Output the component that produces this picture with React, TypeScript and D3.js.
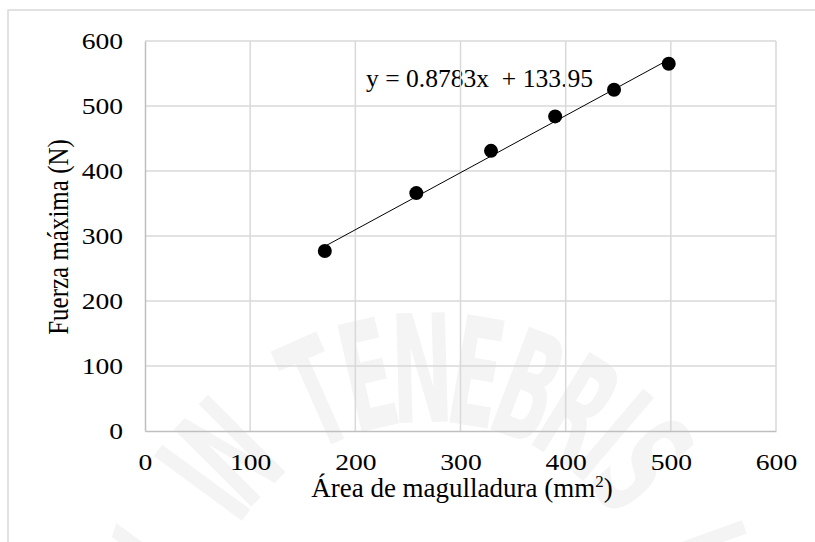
import { useEffect, useRef } from 'react';
import * as d3 from 'd3';

// values
const areaValues = [171, 258, 329, 390, 446, 498];
const forceValues = [277, 366, 431, 484, 525, 565];
const xTickValues = [0, 100, 200, 300, 400, 500, 600];
const yTickValues = [0, 100, 200, 300, 400, 500, 600];
const trendSlope = 0.8783;
const trendIntercept = 133.95;
const equationText = 'y = 0.8783x  + 133.95';
const xTitle = 'Área de magulladura (mm';
const yTitle = 'Fuerza máxima (N)';
const watermarkText = 'LUX IN TENEBRIS LUCET';

const W = 815;
const H = 542;
const FONT = '"Liberation Serif", "Times New Roman", serif';

export default function App() {
    const ref = useRef<SVGSVGElement | null>(null);

    useEffect(() => {
        if (!ref.current) return;
        document.body.style.margin = '0';

        const margin = { top: 41, right: 39, bottom: 111, left: 145 };
        const innerW = W - margin.left - margin.right;
        const innerH = H - margin.top - margin.bottom;

        const x = d3.scaleLinear().domain([0, 600]).range([0, innerW]);
        const y = d3.scaleLinear().domain([0, 600]).range([innerH, 0]);

        const svg = d3.select(ref.current);
        svg.selectAll('*').remove();
        svg.attr('viewBox', `0 0 ${W} ${H}`);

        svg.append('rect').attr('width', W).attr('height', H).attr('fill', '#fff');

        // faint watermark, letters laid out one by one round an arc
        const cx = 430, cy = 650, rText = 228;
        const advance = (c: string) => (c === ' ' ? 50 : c === 'I' ? 30 : 55);
        const chars = watermarkText.split('');
        const starts: number[] = [];
        let run = 0;
        chars.forEach(c => {
            starts.push(run + advance(c) / 2);
            run += advance(c);
        });
        const anchorIdx = watermarkText.indexOf('TENEBRIS') + 2; // the N sits almost straight up
        const anchorAngle = -1.6;
        const wm = svg.append('g')
            .attr('transform', `translate(${cx},${cy})`)
            .style('font-family', '"DejaVu Sans Condensed", "DejaVu Sans", sans-serif')
            .style('font-weight', 'bold')
            .attr('font-size', 150)
            .attr('fill', '#f4f4f4');
        chars.forEach((c, i) => {
            if (c === ' ') return;
            const ang = anchorAngle + ((starts[i] - starts[anchorIdx]) / 283) * (180 / Math.PI);
            wm.append('text')
                .attr('transform', `rotate(${ang}) translate(0,${-rText}) scale(0.55,1)`)
                .attr('text-anchor', 'middle')
                .text(c);
        });

        // outer frame
        svg.append('path')
            .attr('d', `M8,${H + 2} V10 H${W + 2}`)
            .attr('fill', 'none')
            .attr('stroke', '#d9d9d9')
            .attr('stroke-width', 1.5);

        const g = svg.append('g').attr('transform', `translate(${margin.left},${margin.top})`);

        g.append('text')
            .attr('x', 366 - margin.left)
            .attr('y', 87 - margin.top)
            .style('font-family', FONT)
            .attr('font-size', 25.5)
            .attr('textLength', 227)
            .attr('lengthAdjust', 'spacingAndGlyphs')
            .style('white-space', 'pre')
            .text(equationText);

        // gridlines
        g.append('g')
            .selectAll('line')
            .data(xTickValues.slice(1))
            .join('line')
            .attr('x1', d => x(d))
            .attr('x2', d => x(d))
            .attr('y1', 0)
            .attr('y2', innerH)
            .attr('stroke', '#d9d9d9')
            .attr('stroke-width', 1.5);
        g.append('g')
            .selectAll('line')
            .data(yTickValues.slice(1))
            .join('line')
            .attr('x1', 0)
            .attr('x2', innerW)
            .attr('y1', d => y(d))
            .attr('y2', d => y(d))
            .attr('stroke', '#d9d9d9')
            .attr('stroke-width', 1.5);

        // axes
        const xAxis = g.append('g')
            .attr('transform', `translate(0,${innerH})`)
            .call(d3.axisBottom(x).tickValues(xTickValues).tickSize(0).tickPadding(22));
        const yAxis = g.append('g')
            .call(d3.axisLeft(y).tickValues(yTickValues).tickSize(0).tickPadding(19));
        [xAxis, yAxis].forEach(a => {
            a.attr('font-family', null).attr('font-size', null);
            a.select('.domain').attr('stroke', '#bfbfbf').attr('stroke-width', 1.5);
            a.selectAll('text')
                .style('font-family', FONT)
                .style('font-size', '24px')
                .attr('fill', '#000')
                .attr('transform', 'scale(1.15,1)');
        });

        // trend line
        const xMin = d3.min(areaValues)!;
        const xMax = d3.max(areaValues)!;
        g.append('line')
            .attr('x1', x(xMin))
            .attr('y1', y(trendSlope * xMin + trendIntercept))
            .attr('x2', x(xMax))
            .attr('y2', y(trendSlope * xMax + trendIntercept))
            .attr('stroke', '#000')
            .attr('stroke-width', 1);

        g.append('g')
            .selectAll('circle')
            .data(areaValues)
            .join('circle')
            .attr('cx', d => x(d))
            .attr('cy', (_, i) => y(forceValues[i]))
            .attr('r', 7)
            .attr('fill', '#000');

        // axis titles
        const xt = svg.append('text')
            .attr('x', 462)
            .attr('y', 497)
            .attr('text-anchor', 'middle')
            .style('font-family', FONT)
            .attr('font-size', 27);
        xt.append('tspan').text(xTitle);
        xt.append('tspan').attr('font-size', 17).attr('dy', -10).text('2');
        xt.append('tspan').attr('dy', 10).text(')');

        svg.append('text')
            .attr('transform', `translate(68,237) scale(1.2,1) rotate(-90)`)
            .attr('text-anchor', 'middle')
            .style('font-family', FONT)
            .attr('font-size', 25)
            .text(yTitle);
    }, []);

    return <svg ref={ref} width={W} height={H} style={{ display: 'block' }} />;
}
